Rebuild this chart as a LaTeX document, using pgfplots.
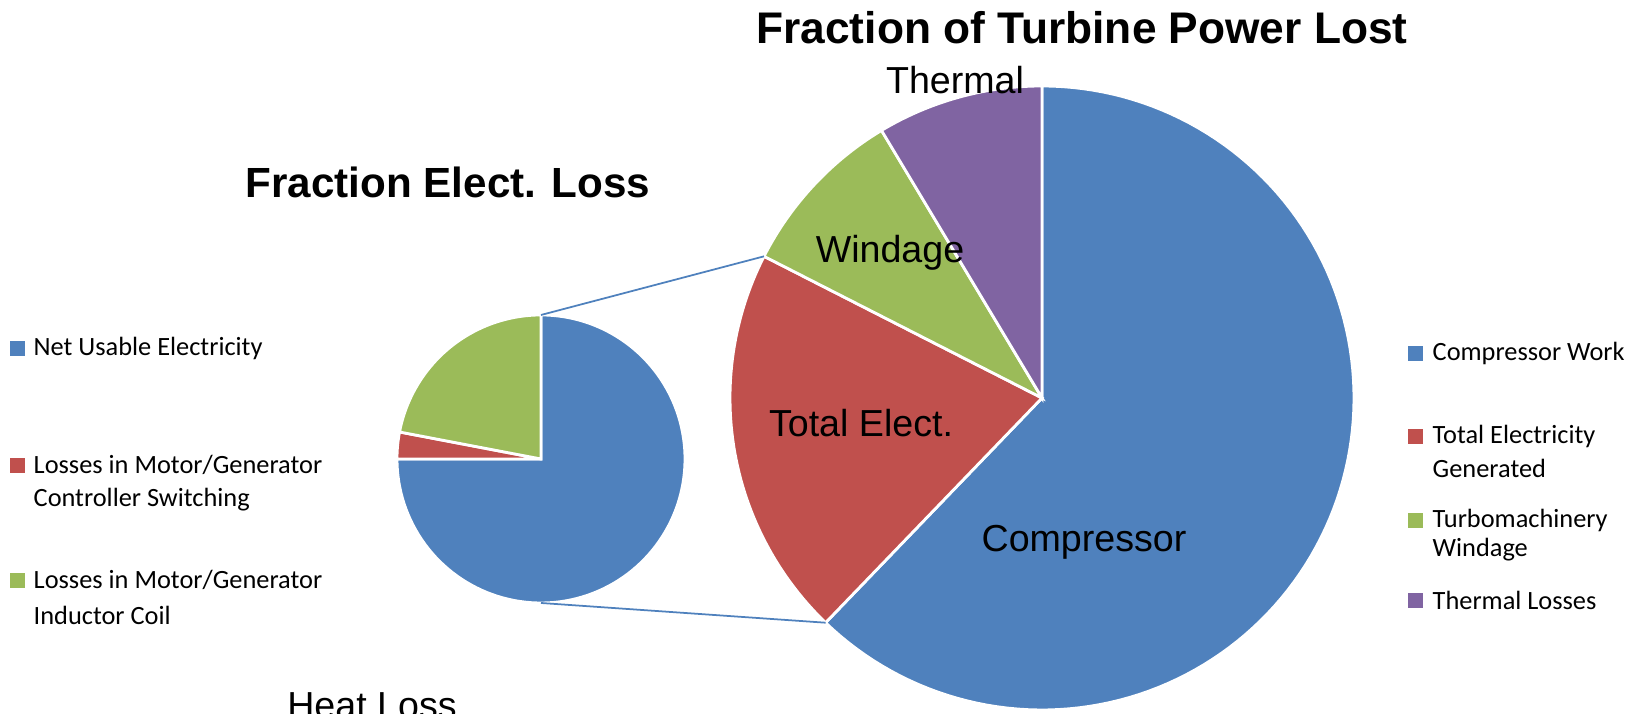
\documentclass[border=0pt]{standalone}
\usepackage{pgfplots}
\pgfplotsset{compat=1.18}
\usepackage{fontspec}
\setmainfont{Liberation Sans}
\newfontfamily\legfont{Carlito}
\definecolor{cblue}{HTML}{4F81BD}
\definecolor{cred}{HTML}{C0504D}
\definecolor{cgreen}{HTML}{9BBB59}
\definecolor{cpurple}{HTML}{8064A2}
\begin{document}
\begin{tikzpicture}
% data (percent)
\def\vA{62.2}\def\vB{20.3}\def\vC{8.9}\def\vD{8.6}
\def\sA{75}\def\sB{3}\def\sC{22}
% geometry (pixel units)
\def\bx{1042}\def\by{316}\def\br{312}
\def\sx{541}\def\sy{255}\def\sr{144}
\pgfmathsetmacro\aA{90}
\pgfmathsetmacro\aB{90-3.6*\vA}
\pgfmathsetmacro\aC{\aB-3.6*\vB}
\pgfmathsetmacro\aD{\aC-3.6*\vC}
\pgfmathsetmacro\aE{\aD-3.6*\vD}
\pgfmathsetmacro\bA{90}
\pgfmathsetmacro\bB{90-3.6*\sA}
\pgfmathsetmacro\bC{\bB-3.6*\sB}
\pgfmathsetmacro\bD{\bC-3.6*\sC}
\path[use as bounding box] (0,0) rectangle (16.42cm,7.14cm);
\begin{axis}[at={(0,0)},anchor=south west,scale only axis,width=16.42cm,height=7.14cm,
  xmin=0,xmax=1642,ymin=0,ymax=714,hide axis,clip=false]
% big pie
\addplot[fill=cblue,draw=white,line width=0.8pt,domain=\aB:\aA,samples=120,variable=\t] ({\bx+\br*cos(\t)},{\by+\br*sin(\t)}) -- (axis cs:\bx,\by) -- cycle;
\addplot[fill=cred,draw=white,line width=0.8pt,domain=\aC:\aB,samples=60,variable=\t] ({\bx+\br*cos(\t)},{\by+\br*sin(\t)}) -- (axis cs:\bx,\by) -- cycle;
\addplot[fill=cgreen,draw=white,line width=0.8pt,domain=\aD:\aC,samples=40,variable=\t] ({\bx+\br*cos(\t)},{\by+\br*sin(\t)}) -- (axis cs:\bx,\by) -- cycle;
\addplot[fill=cpurple,draw=white,line width=0.8pt,domain=\aE:\aD,samples=40,variable=\t] ({\bx+\br*cos(\t)},{\by+\br*sin(\t)}) -- (axis cs:\bx,\by) -- cycle;
% small pie
\addplot[fill=cblue,draw=white,line width=0.8pt,domain=\bB:\bA,samples=120,variable=\t] ({\sx+\sr*cos(\t)},{\sy+\sr*sin(\t)}) -- (axis cs:\sx,\sy) -- cycle;
\addplot[fill=cred,draw=white,line width=0.8pt,domain=\bC:\bB,samples=20,variable=\t] ({\sx+\sr*cos(\t)},{\sy+\sr*sin(\t)}) -- (axis cs:\sx,\sy) -- cycle;
\addplot[fill=cgreen,draw=white,line width=0.8pt,domain=\bD:\bC,samples=40,variable=\t] ({\sx+\sr*cos(\t)},{\sy+\sr*sin(\t)}) -- (axis cs:\sx,\sy) -- cycle;
% connector lines
\draw[cblue,line width=0.5pt] (axis cs:\sx,{\sy+\sr}) -- (axis cs:{\bx+\br*cos(\aC)},{\by+\br*sin(\aC)});
\draw[cblue,line width=0.5pt] (axis cs:\sx,{\sy-\sr}) -- (axis cs:{\bx+\br*cos(\aB)},{\by+\br*sin(\aB)});
% titles
\node[font=\fontsize{12.6}{15}\selectfont\bfseries] at (axis cs:1082,686) {Fraction of Turbine Power Lost};
\node[font=\fontsize{12.0}{14}\selectfont\bfseries] at (axis cs:448,532) {Fraction Elect. Loss};
% slice labels
\node[font=\fontsize{10.7}{13}\selectfont] at (axis cs:955,634) {Thermal};
\node[font=\fontsize{10.7}{13}\selectfont] at (axis cs:890,461) {Windage};
\node[font=\fontsize{10.7}{13}\selectfont] at (axis cs:861,291) {Total Elect.};
\node[font=\fontsize{10.7}{13}\selectfont] at (axis cs:1084,172) {Compressor};
\node[font=\fontsize{10.7}{13}\selectfont,anchor=base] at (axis cs:372,-5) {Heat Loss};
% left legend
\begin{scope}[every node/.style={font=\legfont\fontsize{7.5}{9.5}\selectfont,anchor=west,inner sep=0pt}]
\fill[cblue] (axis cs:10,{714-341}) rectangle (axis cs:25,{714-356});
\node at (axis cs:33,{714-348}) {Net Usable Electricity};
\fill[cred] (axis cs:10,{714-458}) rectangle (axis cs:25,{714-473});
\node at (axis cs:33,{714-465}) {Losses in Motor/Generator};
\node at (axis cs:33,{714-500}) {Controller Switching};
\fill[cgreen] (axis cs:10,{714-573}) rectangle (axis cs:25,{714-588});
\node at (axis cs:33,{714-580}) {Losses in Motor/Generator};
\node at (axis cs:33,{714-615}) {Inductor Coil};
% right legend
\fill[cblue] (axis cs:1408,{714-346}) rectangle (axis cs:1423,{714-361});
\node at (axis cs:1432,{714-353}) {Compressor Work};
\fill[cred] (axis cs:1408,{714-429}) rectangle (axis cs:1423,{714-444});
\node at (axis cs:1432,{714-436}) {Total Electricity};
\node at (axis cs:1432,{714-468}) {Generated};
\fill[cgreen] (axis cs:1408,{714-513}) rectangle (axis cs:1423,{714-528});
\node at (axis cs:1432,{714-520}) {Turbomachinery};
\node at (axis cs:1432,{714-550}) {Windage};
\fill[cpurple] (axis cs:1408,{714-593}) rectangle (axis cs:1423,{714-608});
\node at (axis cs:1432,{714-600}) {Thermal Losses};
\end{scope}
\end{axis}
\end{tikzpicture}
\end{document}
